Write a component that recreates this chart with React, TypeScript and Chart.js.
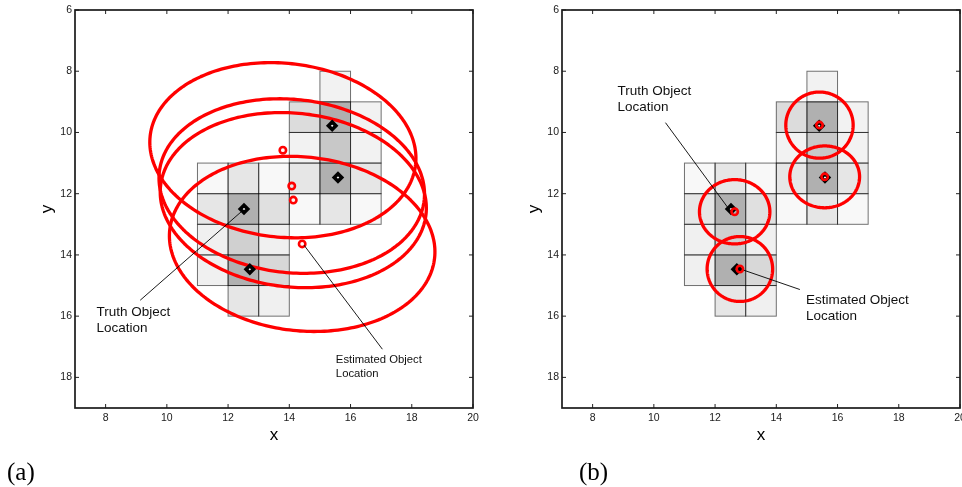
import React, { useEffect, useRef } from 'react';
import { Chart, registerables } from 'chart.js';

Chart.register(...registerables);

// Axis ticks shared by both panels
const X_TICKS = [8, 10, 12, 14, 16, 18, 20];
const Y_TICKS = [6, 8, 10, 12, 14, 16, 18];
const X_MIN = 7;
const X_MAX = 20;
const Y_MIN = 6;
const Y_MAX = 19;

// Sensor grid cells: [column x, row y, detection weight 0..1]
const GRID_CELLS: [number, number, number][] = [
  [15, 8, 0.13],
  [14, 9, 0.42], [15, 9, 1.0], [16, 9, 0.13],
  [14, 10, 0.13], [15, 10, 0.68], [16, 10, 0.13],
  [14, 11, 0.29], [15, 11, 1.0], [16, 11, 0.29],
  [14, 12, 0.05], [15, 12, 0.29], [16, 12, 0.05],
  [11, 11, 0.05], [12, 11, 0.29], [13, 11, 0.05],
  [11, 12, 0.29], [12, 12, 1.0], [13, 12, 0.37],
  [11, 13, 0.16], [12, 13, 0.58], [13, 13, 0.16],
  [11, 14, 0.16], [12, 14, 1.0], [13, 14, 0.47],
  [12, 15, 0.29], [13, 15, 0.16],
];

// True object positions
const TRUTH_X = [12.52, 12.71, 15.4, 15.59];
const TRUTH_Y = [12.5, 14.47, 9.78, 11.47];

// (a) estimates and their error ellipses
const EST_A_X = [13.79, 14.08, 14.13, 14.42];
const EST_A_Y = [10.58, 11.75, 12.21, 13.64];
const ELL_A_SEMI_X = [4.36, 4.35, 4.36, 4.35];
const ELL_A_SEMI_Y = [2.84, 2.83, 2.84, 2.84];
const ELL_A_TILT_DEG = [6, 6, 6, 6];

// (b) estimates and their error ellipses
const EST_B_X = [12.64, 12.81, 15.41, 15.58];
const EST_B_Y = [12.59, 14.46, 9.76, 11.45];
const ELL_B_SEMI_X = [1.15, 1.07, 1.1, 1.14];
const ELL_B_SEMI_Y = [1.05, 1.06, 1.08, 1.01];
const ELL_B_TILT_DEG = [0, 0, 0, 0];

type Note = {
  lines: string[];
  at: [number, number];
  from: [number, number];
  to: [number, number];
  size: number;
  gap: number;
};

const NOTES_A: Note[] = [
  { lines: ['Truth Object', 'Location'], at: [7.7, 15.87], from: [9.13, 15.48], to: [12.43, 12.59], size: 13.5, gap: 16 },
  { lines: ['Estimated Object', 'Location'], at: [15.52, 17.44], from: [17.04, 17.08], to: [14.48, 13.68], size: 11.3, gap: 13.3 },
];

const NOTES_B: Note[] = [
  { lines: ['Truth Object', 'Location'], at: [8.81, 8.65], from: [10.38, 9.68], to: [12.45, 12.5], size: 13.5, gap: 16 },
  { lines: ['Estimated Object', 'Location'], at: [14.97, 15.49], from: [14.77, 15.13], to: [12.94, 14.5], size: 13.5, gap: 16 },
];

const SANS = "'Liberation Sans', Arial, Helvetica, sans-serif";
const CANVAS_W = 495;
const CANVAS_H = 487;

type PanelSpec = {
  estX: number[];
  estY: number[];
  semiX: number[];
  semiY: number[];
  tilt: number[];
  notes: Note[];
  plotLeft: number;
  plotRight: number;
  yTitlePad: number;
};

const PANEL_A: PanelSpec = {
  estX: EST_A_X, estY: EST_A_Y, semiX: ELL_A_SEMI_X, semiY: ELL_A_SEMI_Y, tilt: ELL_A_TILT_DEG,
  notes: NOTES_A, plotLeft: 75, plotRight: 473, yTitlePad: 37,
};

const PANEL_B: PanelSpec = {
  estX: EST_B_X, estY: EST_B_Y, semiX: ELL_B_SEMI_X, semiY: ELL_B_SEMI_Y, tilt: ELL_B_TILT_DEG,
  notes: NOTES_B, plotLeft: 81, plotRight: 479, yTitlePad: 43,
};

function panelPlugin(p: PanelSpec) {
  return {
    id: 'panelDecor',
    beforeDatasetsDraw(chart: any) {
      const { ctx, chartArea: a } = chart;
      const xs = chart.scales.x;
      const ys = chart.scales.y;
      ctx.save();
      ctx.beginPath();
      ctx.rect(a.left, a.top, a.right - a.left, a.bottom - a.top);
      ctx.clip();

      // grid cells
      const rects = GRID_CELLS.map(([cx, cy, w]) => {
        const x0 = xs.getPixelForValue(cx);
        const x1 = xs.getPixelForValue(cx + 1);
        const y0 = ys.getPixelForValue(cy);
        const y1 = ys.getPixelForValue(cy + 1);
        return { x: Math.min(x0, x1), y: Math.min(y0, y1), w: Math.abs(x1 - x0), h: Math.abs(y1 - y0), v: w };
      });
      for (const r of rects) {
        const g = Math.round(252 - 76 * r.v);
        ctx.fillStyle = `rgb(${g},${g},${g})`;
        ctx.fillRect(r.x, r.y, r.w, r.h);
      }
      ctx.strokeStyle = 'rgba(0,0,0,0.55)';
      ctx.lineWidth = 1;
      for (const r of rects) ctx.strokeRect(r.x, r.y, r.w, r.h);

      // error ellipses
      ctx.strokeStyle = '#ff0000';
      ctx.lineWidth = 3.3;
      ctx.lineJoin = 'round';
      for (let k = 0; k < p.estX.length; k++) {
        const phi = (p.tilt[k] * Math.PI) / 180;
        const n = 240;
        ctx.beginPath();
        for (let i = 0; i <= n; i++) {
          const t = (i / n) * Math.PI * 2;
          const dx = p.semiX[k] * Math.cos(t);
          const dy = p.semiY[k] * Math.sin(t);
          const vx = p.estX[k] + dx * Math.cos(phi) - dy * Math.sin(phi);
          const vy = p.estY[k] + dx * Math.sin(phi) + dy * Math.cos(phi);
          const px = xs.getPixelForValue(vx);
          const py = ys.getPixelForValue(vy);
          if (i === 0) ctx.moveTo(px, py);
          else ctx.lineTo(px, py);
        }
        ctx.closePath();
        ctx.stroke();
      }
      ctx.restore();
    },
    afterDatasetsDraw(chart: any) {
      const { ctx } = chart;
      const xs = chart.scales.x;
      const ys = chart.scales.y;
      ctx.save();
      for (const note of p.notes) {
        ctx.strokeStyle = '#000';
        ctx.lineWidth = 0.9;
        ctx.beginPath();
        ctx.moveTo(xs.getPixelForValue(note.from[0]), ys.getPixelForValue(note.from[1]));
        ctx.lineTo(xs.getPixelForValue(note.to[0]), ys.getPixelForValue(note.to[1]));
        ctx.stroke();
        ctx.fillStyle = '#111';
        ctx.font = `${note.size}px ${SANS}`;
        ctx.textAlign = 'left';
        ctx.textBaseline = 'middle';
        const tx = xs.getPixelForValue(note.at[0]);
        const ty = ys.getPixelForValue(note.at[1]);
        note.lines.forEach((line, i) => ctx.fillText(line, tx, ty + i * note.gap));
      }
      ctx.restore();
    },
    afterDraw(chart: any) {
      const { ctx, chartArea: a } = chart;
      const xs = chart.scales.x;
      const ys = chart.scales.y;
      ctx.save();
      // inward tick marks on all four sides
      ctx.strokeStyle = '#222';
      ctx.lineWidth = 1;
      const tl = 4;
      ctx.beginPath();
      for (const v of X_TICKS) {
        const px = xs.getPixelForValue(v);
        ctx.moveTo(px, a.bottom);
        ctx.lineTo(px, a.bottom - tl);
        ctx.moveTo(px, a.top);
        ctx.lineTo(px, a.top + tl);
      }
      for (const v of Y_TICKS) {
        const py = ys.getPixelForValue(v);
        ctx.moveTo(a.left, py);
        ctx.lineTo(a.left + tl, py);
        ctx.moveTo(a.right, py);
        ctx.lineTo(a.right - tl, py);
      }
      ctx.stroke();
      // axes box
      ctx.strokeStyle = '#1a1a1a';
      ctx.lineWidth = 1.7;
      ctx.strokeRect(a.left, a.top, a.right - a.left, a.bottom - a.top);
      ctx.restore();
    },
  };
}

function buildChart(canvas: HTMLCanvasElement, p: PanelSpec) {
  return new Chart(canvas, {
    type: 'scatter',
    data: {
      datasets: [
        {
          label: 'Estimated',
          data: p.estX.map((x, i) => ({ x, y: p.estY[i] })),
          pointStyle: 'circle',
          pointRadius: 3.2,
          borderWidth: 2.6,
          borderColor: '#ff0000',
          backgroundColor: 'rgba(0,0,0,0)',
        },
        {
          label: 'Truth',
          data: TRUTH_X.map((x, i) => ({ x, y: TRUTH_Y[i] })),
          pointStyle: 'rectRot',
          pointRadius: 3.7,
          borderWidth: 3.6,
          borderColor: '#000',
          backgroundColor: '#fff',
        },
      ],
    },
    options: {
      responsive: false,
      animation: false,
      devicePixelRatio: 1,
      events: [],
      layout: { padding: { left: 0, top: 10, right: CANVAS_W - p.plotRight, bottom: 0 } },
      plugins: { legend: { display: false }, tooltip: { enabled: false } },
      scales: {
        x: {
          type: 'linear',
          position: 'bottom',
          min: X_MIN,
          max: X_MAX,
          grid: { display: false, drawTicks: false },
          border: { display: false },
          ticks: { font: { family: SANS, size: 10.5 }, color: '#1a1a1a', padding: 4, maxRotation: 0, autoSkip: false },
          afterBuildTicks: (s: any) => {
            s.ticks = X_TICKS.map((v) => ({ value: v }));
          },
          afterFit: (s: any) => {
            s.height = 79;
            s.paddingLeft = 0;
            s.paddingRight = 0;
          },
          title: { display: true, text: 'x', color: '#000', font: { family: SANS, size: 17 }, padding: { top: 0, bottom: 41 } },
        },
        y: {
          type: 'linear',
          position: 'left',
          reverse: true,
          min: Y_MIN,
          max: Y_MAX,
          grid: { display: false, drawTicks: false },
          border: { display: false },
          ticks: { font: { family: SANS, size: 10.5 }, color: '#1a1a1a', padding: 3, autoSkip: false },
          afterBuildTicks: (s: any) => {
            s.ticks = Y_TICKS.map((v) => ({ value: v }));
          },
          afterFit: (s: any) => {
            s.width = p.plotLeft;
            s.paddingTop = 0;
            s.paddingBottom = 0;
          },
          title: { display: true, text: 'y', color: '#000', font: { family: SANS, size: 17 }, padding: { top: p.yTitlePad, bottom: 0 } },
        },
      },
    } as any,
    plugins: [panelPlugin(p)],
  });
}

function Panel({ spec, left, caption, captionLeft }: { spec: PanelSpec; left: number; caption: string; captionLeft: number }) {
  const ref = useRef<HTMLCanvasElement | null>(null);
  useEffect(() => {
    if (!ref.current) return;
    const chart = buildChart(ref.current, spec);
    return () => chart.destroy();
  }, [spec]);
  return (
    <>
      <canvas
        ref={ref}
        width={CANVAS_W}
        height={CANVAS_H}
        style={{ position: 'absolute', left, top: 0, width: CANVAS_W, height: CANVAS_H }}
      />
      <div
        style={{
          position: 'absolute',
          left: captionLeft,
          top: 459,
          fontFamily: "'Liberation Serif', 'Times New Roman', serif",
          fontSize: 25,
          lineHeight: '25px',
          color: '#000',
          whiteSpace: 'nowrap',
        }}
      >
        {caption}
      </div>
    </>
  );
}

export default function App() {
  return (
    <div style={{ position: 'absolute', left: 0, top: 0, width: 962, height: 487, background: '#fff', overflow: 'hidden' }}>
      <Panel spec={PANEL_A} left={0} caption="(a)" captionLeft={7} />
      <Panel spec={PANEL_B} left={481} caption="(b)" captionLeft={579} />
    </div>
  );
}
